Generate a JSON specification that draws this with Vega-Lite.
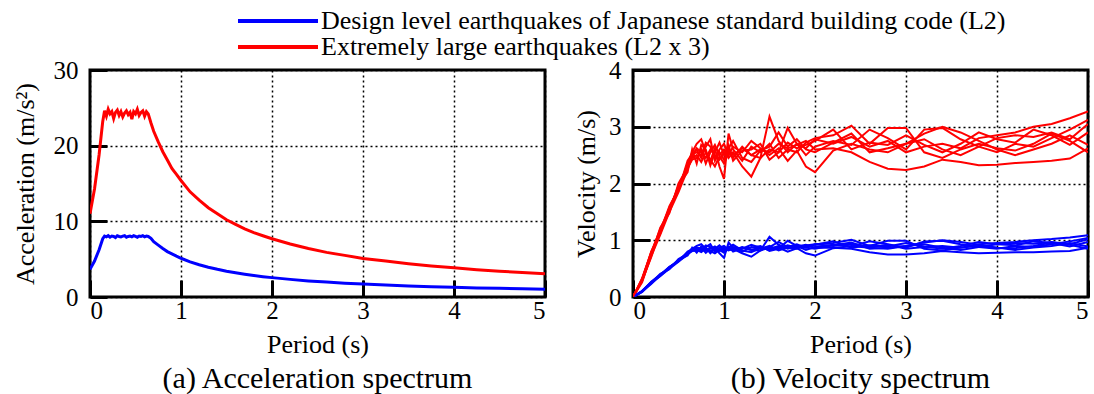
{
  "$schema": "https://vega.github.io/schema/vega-lite/v6.json",
  "background": "white",
  "padding": {"left": 10, "top": 8, "right": 0, "bottom": 0},
  "bounds": "flush",
  "spacing": 88,
  "config": {
    "font": "Liberation Serif",
    "view": {"stroke": "black", "strokeWidth": 3},
    "axis": {
      "domain": false,
      "grid": true,
      "gridColor": "black",
      "gridDash": [2, 3],
      "gridWidth": 1.5,
      "gridOpacity": 1,
      "ticks": true,
      "tickColor": "black",
      "tickSize": -17,
      "tickWidth": 3,
      "labelFont": "Liberation Serif",
      "labelFontSize": 25,
      "labelColor": "black",
      "titleFont": "Liberation Serif",
      "titleFontSize": 26,
      "titleFontWeight": "normal",
      "titleColor": "black"
    },
    "axisX": {"labelPadding": 18, "titlePadding": 8},
    "axisY": {"labelPadding": 29},
    "legend": {
      "symbolType": "M-4,0H4",
      "symbolSize": 400,
      "symbolStrokeWidth": 4,
      "labelFont": "Liberation Serif",
      "labelFontSize": 26,
      "labelColor": "black",
      "labelLimit": 2000,
      "labelOffset": 30,
      "rowPadding": 0,
      "padding": 0,
      "title": null
    },
    "title": {"font": "Liberation Serif", "fontSize": 30, "fontWeight": "normal", "color": "black", "offset": 7}
  },
  "datasets": {
    "acc": [
      {"T": 0, "L2": 3.65, "L2x3": 11.0},
      {"T": 0.05, "L2": 4.75, "L2x3": 14.3},
      {"T": 0.1, "L2": 6.25, "L2x3": 18.8},
      {"T": 0.14, "L2": 7.7, "L2x3": 23.2},
      {"T": 0.16, "L2": 8.05, "L2x3": 24.6},
      {"T": 0.18, "L2": 7.95, "L2x3": 23.9},
      {"T": 0.2, "L2": 8.1, "L2x3": 24.8},
      {"T": 0.22, "L2": 7.9, "L2x3": 24.2},
      {"T": 0.24, "L2": 8.05, "L2x3": 24.5},
      {"T": 0.26, "L2": 8.0, "L2x3": 23.6},
      {"T": 0.28, "L2": 7.85, "L2x3": 24.4},
      {"T": 0.3, "L2": 8.1, "L2x3": 24.7},
      {"T": 0.32, "L2": 8.0, "L2x3": 24.0},
      {"T": 0.34, "L2": 7.95, "L2x3": 24.5},
      {"T": 0.36, "L2": 8.05, "L2x3": 23.8},
      {"T": 0.38, "L2": 8.1, "L2x3": 24.3},
      {"T": 0.4, "L2": 7.9, "L2x3": 24.6},
      {"T": 0.42, "L2": 8.0, "L2x3": 24.1},
      {"T": 0.44, "L2": 8.05, "L2x3": 24.4},
      {"T": 0.46, "L2": 7.95, "L2x3": 23.5},
      {"T": 0.48, "L2": 8.1, "L2x3": 24.5},
      {"T": 0.5, "L2": 8.0, "L2x3": 24.2},
      {"T": 0.52, "L2": 7.9, "L2x3": 24.8},
      {"T": 0.54, "L2": 8.05, "L2x3": 24.0},
      {"T": 0.56, "L2": 8.0, "L2x3": 24.4},
      {"T": 0.58, "L2": 8.1, "L2x3": 24.6},
      {"T": 0.6, "L2": 7.95, "L2x3": 23.9},
      {"T": 0.62, "L2": 8.05, "L2x3": 24.5},
      {"T": 0.64, "L2": 8.0, "L2x3": 24.2},
      {"T": 0.67, "L2": 7.75, "L2x3": 23.0},
      {"T": 0.7, "L2": 7.3, "L2x3": 21.9},
      {"T": 0.75, "L2": 6.85, "L2x3": 20.5},
      {"T": 0.8, "L2": 6.4, "L2x3": 19.2},
      {"T": 0.85, "L2": 6.0, "L2x3": 18.1},
      {"T": 0.9, "L2": 5.7, "L2x3": 17.0},
      {"T": 0.95, "L2": 5.4, "L2x3": 16.2},
      {"T": 1.0, "L2": 5.12, "L2x3": 15.4},
      {"T": 1.1, "L2": 4.65, "L2x3": 13.9},
      {"T": 1.2, "L2": 4.27, "L2x3": 12.8},
      {"T": 1.3, "L2": 3.94, "L2x3": 11.8},
      {"T": 1.4, "L2": 3.66, "L2x3": 11.0},
      {"T": 1.5, "L2": 3.41, "L2x3": 10.2},
      {"T": 1.6, "L2": 3.2, "L2x3": 9.6},
      {"T": 1.7, "L2": 3.01, "L2x3": 9.0},
      {"T": 1.8, "L2": 2.84, "L2x3": 8.5},
      {"T": 1.9, "L2": 2.69, "L2x3": 8.1},
      {"T": 2.0, "L2": 2.56, "L2x3": 7.7},
      {"T": 2.2, "L2": 2.33, "L2x3": 7.0},
      {"T": 2.4, "L2": 2.13, "L2x3": 6.4},
      {"T": 2.6, "L2": 1.97, "L2x3": 5.9},
      {"T": 2.8, "L2": 1.83, "L2x3": 5.5},
      {"T": 3.0, "L2": 1.71, "L2x3": 5.1},
      {"T": 3.25, "L2": 1.58, "L2x3": 4.75},
      {"T": 3.5, "L2": 1.46, "L2x3": 4.4},
      {"T": 3.75, "L2": 1.37, "L2x3": 4.1},
      {"T": 4.0, "L2": 1.28, "L2x3": 3.85},
      {"T": 4.25, "L2": 1.2, "L2x3": 3.6},
      {"T": 4.5, "L2": 1.14, "L2x3": 3.4},
      {"T": 4.75, "L2": 1.08, "L2x3": 3.23},
      {"T": 5.0, "L2": 1.02, "L2x3": 3.07}
    ],
    "vel": [
      {"w": 1, "T": 0, "L2": 0, "L2x3": 0},
      {"w": 1, "T": 0.1, "L2": 0.1, "L2x3": 0.32},
      {"w": 1, "T": 0.2, "L2": 0.26, "L2x3": 0.78},
      {"w": 1, "T": 0.3, "L2": 0.39, "L2x3": 1.2},
      {"w": 1, "T": 0.4, "L2": 0.52, "L2x3": 1.55},
      {"w": 1, "T": 0.5, "L2": 0.65, "L2x3": 1.95},
      {"w": 1, "T": 0.6, "L2": 0.77, "L2x3": 2.3},
      {"w": 1, "T": 0.65, "L2": 0.84, "L2x3": 2.5},
      {"w": 1, "T": 0.7, "L2": 0.87, "L2x3": 2.62},
      {"w": 1, "T": 0.75, "L2": 0.85, "L2x3": 2.55},
      {"w": 1, "T": 0.8, "L2": 0.82, "L2x3": 2.45},
      {"w": 1, "T": 0.85, "L2": 0.87, "L2x3": 2.6},
      {"w": 1, "T": 0.9, "L2": 0.83, "L2x3": 2.5},
      {"w": 1, "T": 0.95, "L2": 0.81, "L2x3": 2.42},
      {"w": 1, "T": 1.0, "L2": 0.85, "L2x3": 2.55},
      {"w": 1, "T": 1.05, "L2": 0.87, "L2x3": 2.6},
      {"w": 1, "T": 1.1, "L2": 0.83, "L2x3": 2.5},
      {"w": 1, "T": 1.2, "L2": 0.87, "L2x3": 2.62},
      {"w": 1, "T": 1.3, "L2": 0.83, "L2x3": 2.5},
      {"w": 1, "T": 1.4, "L2": 0.82, "L2x3": 2.45},
      {"w": 1, "T": 1.5, "L2": 1.06, "L2x3": 3.18},
      {"w": 1, "T": 1.6, "L2": 0.92, "L2x3": 2.75},
      {"w": 1, "T": 1.7, "L2": 0.85, "L2x3": 2.55},
      {"w": 1, "T": 1.8, "L2": 0.9, "L2x3": 2.7},
      {"w": 1, "T": 1.9, "L2": 0.87, "L2x3": 2.62},
      {"w": 1, "T": 2.0, "L2": 0.93, "L2x3": 2.78},
      {"w": 1, "T": 2.2, "L2": 0.9, "L2x3": 2.7},
      {"w": 1, "T": 2.4, "L2": 0.94, "L2x3": 2.82},
      {"w": 1, "T": 2.6, "L2": 0.88, "L2x3": 2.65},
      {"w": 1, "T": 2.8, "L2": 0.92, "L2x3": 2.75},
      {"w": 1, "T": 3.0, "L2": 0.85, "L2x3": 2.55},
      {"w": 1, "T": 3.2, "L2": 0.88, "L2x3": 2.65},
      {"w": 1, "T": 3.4, "L2": 0.9, "L2x3": 2.7},
      {"w": 1, "T": 3.6, "L2": 0.87, "L2x3": 2.62},
      {"w": 1, "T": 3.8, "L2": 0.93, "L2x3": 2.8},
      {"w": 1, "T": 4.0, "L2": 0.95, "L2x3": 2.85},
      {"w": 1, "T": 4.2, "L2": 0.97, "L2x3": 2.9},
      {"w": 1, "T": 4.4, "L2": 1.0, "L2x3": 3.0},
      {"w": 1, "T": 4.6, "L2": 1.02, "L2x3": 3.05},
      {"w": 1, "T": 4.8, "L2": 1.05, "L2x3": 3.15},
      {"w": 1, "T": 5.0, "L2": 1.09, "L2x3": 3.27},

      {"w": 2, "T": 0, "L2": 0, "L2x3": 0},
      {"w": 2, "T": 0.1, "L2": 0.09, "L2x3": 0.28},
      {"w": 2, "T": 0.2, "L2": 0.24, "L2x3": 0.72},
      {"w": 2, "T": 0.3, "L2": 0.37, "L2x3": 1.1},
      {"w": 2, "T": 0.4, "L2": 0.5, "L2x3": 1.5},
      {"w": 2, "T": 0.5, "L2": 0.62, "L2x3": 1.85},
      {"w": 2, "T": 0.6, "L2": 0.75, "L2x3": 2.25},
      {"w": 2, "T": 0.65, "L2": 0.82, "L2x3": 2.45},
      {"w": 2, "T": 0.7, "L2": 0.83, "L2x3": 2.5},
      {"w": 2, "T": 0.75, "L2": 0.79, "L2x3": 2.38},
      {"w": 2, "T": 0.8, "L2": 0.85, "L2x3": 2.55},
      {"w": 2, "T": 0.85, "L2": 0.81, "L2x3": 2.42},
      {"w": 2, "T": 0.9, "L2": 0.77, "L2x3": 2.3},
      {"w": 2, "T": 0.95, "L2": 0.83, "L2x3": 2.48},
      {"w": 2, "T": 1.0, "L2": 0.78, "L2x3": 2.35},
      {"w": 2, "T": 1.05, "L2": 0.85, "L2x3": 2.55},
      {"w": 2, "T": 1.1, "L2": 0.82, "L2x3": 2.45},
      {"w": 2, "T": 1.2, "L2": 0.88, "L2x3": 2.65},
      {"w": 2, "T": 1.3, "L2": 0.83, "L2x3": 2.5},
      {"w": 2, "T": 1.4, "L2": 0.87, "L2x3": 2.6},
      {"w": 2, "T": 1.5, "L2": 0.85, "L2x3": 2.55},
      {"w": 2, "T": 1.6, "L2": 0.9, "L2x3": 2.7},
      {"w": 2, "T": 1.7, "L2": 0.87, "L2x3": 2.62},
      {"w": 2, "T": 1.8, "L2": 0.89, "L2x3": 2.68},
      {"w": 2, "T": 1.9, "L2": 0.92, "L2x3": 2.75},
      {"w": 2, "T": 2.0, "L2": 0.87, "L2x3": 2.6},
      {"w": 2, "T": 2.2, "L2": 0.87, "L2x3": 2.62},
      {"w": 2, "T": 2.4, "L2": 0.85, "L2x3": 2.55},
      {"w": 2, "T": 2.6, "L2": 0.79, "L2x3": 2.38},
      {"w": 2, "T": 2.8, "L2": 0.75, "L2x3": 2.26},
      {"w": 2, "T": 3.0, "L2": 0.75, "L2x3": 2.24},
      {"w": 2, "T": 3.2, "L2": 0.77, "L2x3": 2.3},
      {"w": 2, "T": 3.4, "L2": 0.81, "L2x3": 2.42},
      {"w": 2, "T": 3.6, "L2": 0.79, "L2x3": 2.38},
      {"w": 2, "T": 3.8, "L2": 0.77, "L2x3": 2.32},
      {"w": 2, "T": 4.0, "L2": 0.78, "L2x3": 2.33},
      {"w": 2, "T": 4.2, "L2": 0.79, "L2x3": 2.36},
      {"w": 2, "T": 4.4, "L2": 0.79, "L2x3": 2.38},
      {"w": 2, "T": 4.6, "L2": 0.8, "L2x3": 2.4},
      {"w": 2, "T": 4.8, "L2": 0.81, "L2x3": 2.44},
      {"w": 2, "T": 5.0, "L2": 0.87, "L2x3": 2.62},

      {"w": 3, "T": 0, "L2": 0, "L2x3": 0},
      {"w": 3, "T": 0.1, "L2": 0.1, "L2x3": 0.3},
      {"w": 3, "T": 0.2, "L2": 0.27, "L2x3": 0.8},
      {"w": 3, "T": 0.3, "L2": 0.39, "L2x3": 1.16},
      {"w": 3, "T": 0.4, "L2": 0.53, "L2x3": 1.6},
      {"w": 3, "T": 0.5, "L2": 0.63, "L2x3": 1.9},
      {"w": 3, "T": 0.6, "L2": 0.78, "L2x3": 2.35},
      {"w": 3, "T": 0.65, "L2": 0.85, "L2x3": 2.55},
      {"w": 3, "T": 0.7, "L2": 0.9, "L2x3": 2.7},
      {"w": 3, "T": 0.75, "L2": 0.93, "L2x3": 2.78},
      {"w": 3, "T": 0.8, "L2": 0.85, "L2x3": 2.55},
      {"w": 3, "T": 0.85, "L2": 0.8, "L2x3": 2.4},
      {"w": 3, "T": 0.9, "L2": 0.87, "L2x3": 2.62},
      {"w": 3, "T": 0.95, "L2": 0.77, "L2x3": 2.3},
      {"w": 3, "T": 1.0, "L2": 0.69, "L2x3": 2.08},
      {"w": 3, "T": 1.05, "L2": 0.96, "L2x3": 2.88},
      {"w": 3, "T": 1.1, "L2": 0.87, "L2x3": 2.6},
      {"w": 3, "T": 1.2, "L2": 0.8, "L2x3": 2.4},
      {"w": 3, "T": 1.3, "L2": 0.88, "L2x3": 2.65},
      {"w": 3, "T": 1.4, "L2": 0.85, "L2x3": 2.55},
      {"w": 3, "T": 1.5, "L2": 0.9, "L2x3": 2.7},
      {"w": 3, "T": 1.6, "L2": 0.82, "L2x3": 2.45},
      {"w": 3, "T": 1.7, "L2": 0.87, "L2x3": 2.6},
      {"w": 3, "T": 1.8, "L2": 0.85, "L2x3": 2.55},
      {"w": 3, "T": 1.9, "L2": 0.91, "L2x3": 2.72},
      {"w": 3, "T": 2.0, "L2": 0.93, "L2x3": 2.8},
      {"w": 3, "T": 2.2, "L2": 0.95, "L2x3": 2.85},
      {"w": 3, "T": 2.4, "L2": 1.01, "L2x3": 3.02},
      {"w": 3, "T": 2.6, "L2": 0.9, "L2x3": 2.7},
      {"w": 3, "T": 2.8, "L2": 0.99, "L2x3": 2.98},
      {"w": 3, "T": 3.0, "L2": 0.99, "L2x3": 2.98},
      {"w": 3, "T": 3.2, "L2": 0.85, "L2x3": 2.55},
      {"w": 3, "T": 3.4, "L2": 0.82, "L2x3": 2.45},
      {"w": 3, "T": 3.6, "L2": 0.87, "L2x3": 2.6},
      {"w": 3, "T": 3.8, "L2": 0.9, "L2x3": 2.7},
      {"w": 3, "T": 4.0, "L2": 0.87, "L2x3": 2.62},
      {"w": 3, "T": 4.2, "L2": 0.86, "L2x3": 2.58},
      {"w": 3, "T": 4.4, "L2": 0.9, "L2x3": 2.7},
      {"w": 3, "T": 4.6, "L2": 0.96, "L2x3": 2.88},
      {"w": 3, "T": 4.8, "L2": 0.92, "L2x3": 2.75},
      {"w": 3, "T": 5.0, "L2": 0.85, "L2x3": 2.55},

      {"w": 4, "T": 0, "L2": 0, "L2x3": 0},
      {"w": 4, "T": 0.1, "L2": 0.09, "L2x3": 0.26},
      {"w": 4, "T": 0.2, "L2": 0.25, "L2x3": 0.74},
      {"w": 4, "T": 0.3, "L2": 0.41, "L2x3": 1.22},
      {"w": 4, "T": 0.4, "L2": 0.49, "L2x3": 1.48},
      {"w": 4, "T": 0.5, "L2": 0.67, "L2x3": 2.0},
      {"w": 4, "T": 0.6, "L2": 0.76, "L2x3": 2.28},
      {"w": 4, "T": 0.65, "L2": 0.81, "L2x3": 2.42},
      {"w": 4, "T": 0.7, "L2": 0.82, "L2x3": 2.45},
      {"w": 4, "T": 0.75, "L2": 0.87, "L2x3": 2.6},
      {"w": 4, "T": 0.8, "L2": 0.78, "L2x3": 2.35},
      {"w": 4, "T": 0.85, "L2": 0.85, "L2x3": 2.55},
      {"w": 4, "T": 0.9, "L2": 0.89, "L2x3": 2.68},
      {"w": 4, "T": 0.95, "L2": 0.83, "L2x3": 2.5},
      {"w": 4, "T": 1.0, "L2": 0.87, "L2x3": 2.6},
      {"w": 4, "T": 1.05, "L2": 0.82, "L2x3": 2.45},
      {"w": 4, "T": 1.1, "L2": 0.85, "L2x3": 2.55},
      {"w": 4, "T": 1.2, "L2": 0.77, "L2x3": 2.3},
      {"w": 4, "T": 1.3, "L2": 0.71, "L2x3": 2.12},
      {"w": 4, "T": 1.4, "L2": 0.82, "L2x3": 2.45},
      {"w": 4, "T": 1.5, "L2": 0.87, "L2x3": 2.6},
      {"w": 4, "T": 1.6, "L2": 0.85, "L2x3": 2.55},
      {"w": 4, "T": 1.7, "L2": 0.99, "L2x3": 2.98},
      {"w": 4, "T": 1.8, "L2": 0.9, "L2x3": 2.7},
      {"w": 4, "T": 1.9, "L2": 0.83, "L2x3": 2.5},
      {"w": 4, "T": 2.0, "L2": 0.88, "L2x3": 2.65},
      {"w": 4, "T": 2.2, "L2": 0.92, "L2x3": 2.75},
      {"w": 4, "T": 2.4, "L2": 0.89, "L2x3": 2.68},
      {"w": 4, "T": 2.6, "L2": 0.98, "L2x3": 2.95},
      {"w": 4, "T": 2.8, "L2": 0.93, "L2x3": 2.8},
      {"w": 4, "T": 3.0, "L2": 0.87, "L2x3": 2.6},
      {"w": 4, "T": 3.2, "L2": 0.98, "L2x3": 2.95},
      {"w": 4, "T": 3.4, "L2": 0.99, "L2x3": 2.98},
      {"w": 4, "T": 3.6, "L2": 0.93, "L2x3": 2.78},
      {"w": 4, "T": 3.8, "L2": 0.88, "L2x3": 2.65},
      {"w": 4, "T": 4.0, "L2": 0.85, "L2x3": 2.55},
      {"w": 4, "T": 4.2, "L2": 0.9, "L2x3": 2.7},
      {"w": 4, "T": 4.4, "L2": 0.88, "L2x3": 2.65},
      {"w": 4, "T": 4.6, "L2": 0.93, "L2x3": 2.8},
      {"w": 4, "T": 4.8, "L2": 0.98, "L2x3": 2.95},
      {"w": 4, "T": 5.0, "L2": 1.04, "L2x3": 3.12},

      {"w": 5, "T": 0, "L2": 0, "L2x3": 0},
      {"w": 5, "T": 0.1, "L2": 0.1, "L2x3": 0.31},
      {"w": 5, "T": 0.2, "L2": 0.25, "L2x3": 0.76},
      {"w": 5, "T": 0.3, "L2": 0.38, "L2x3": 1.14},
      {"w": 5, "T": 0.4, "L2": 0.53, "L2x3": 1.58},
      {"w": 5, "T": 0.5, "L2": 0.63, "L2x3": 1.88},
      {"w": 5, "T": 0.6, "L2": 0.8, "L2x3": 2.4},
      {"w": 5, "T": 0.65, "L2": 0.84, "L2x3": 2.52},
      {"w": 5, "T": 0.7, "L2": 0.85, "L2x3": 2.55},
      {"w": 5, "T": 0.75, "L2": 0.83, "L2x3": 2.5},
      {"w": 5, "T": 0.8, "L2": 0.91, "L2x3": 2.72},
      {"w": 5, "T": 0.85, "L2": 0.88, "L2x3": 2.65},
      {"w": 5, "T": 0.9, "L2": 0.82, "L2x3": 2.45},
      {"w": 5, "T": 0.95, "L2": 0.87, "L2x3": 2.6},
      {"w": 5, "T": 1.0, "L2": 0.9, "L2x3": 2.7},
      {"w": 5, "T": 1.05, "L2": 0.83, "L2x3": 2.5},
      {"w": 5, "T": 1.1, "L2": 0.88, "L2x3": 2.65},
      {"w": 5, "T": 1.2, "L2": 0.85, "L2x3": 2.55},
      {"w": 5, "T": 1.3, "L2": 0.92, "L2x3": 2.75},
      {"w": 5, "T": 1.4, "L2": 0.87, "L2x3": 2.62},
      {"w": 5, "T": 1.5, "L2": 0.83, "L2x3": 2.5},
      {"w": 5, "T": 1.6, "L2": 0.87, "L2x3": 2.62},
      {"w": 5, "T": 1.7, "L2": 0.8, "L2x3": 2.4},
      {"w": 5, "T": 1.8, "L2": 0.86, "L2x3": 2.58},
      {"w": 5, "T": 1.9, "L2": 0.77, "L2x3": 2.3},
      {"w": 5, "T": 2.0, "L2": 0.73, "L2x3": 2.2},
      {"w": 5, "T": 2.2, "L2": 0.86, "L2x3": 2.58},
      {"w": 5, "T": 2.4, "L2": 0.9, "L2x3": 2.7},
      {"w": 5, "T": 2.6, "L2": 0.87, "L2x3": 2.6},
      {"w": 5, "T": 2.8, "L2": 0.85, "L2x3": 2.55},
      {"w": 5, "T": 3.0, "L2": 0.9, "L2x3": 2.7},
      {"w": 5, "T": 3.2, "L2": 0.93, "L2x3": 2.78},
      {"w": 5, "T": 3.4, "L2": 0.87, "L2x3": 2.6},
      {"w": 5, "T": 3.6, "L2": 0.83, "L2x3": 2.5},
      {"w": 5, "T": 3.8, "L2": 0.88, "L2x3": 2.65},
      {"w": 5, "T": 4.0, "L2": 0.93, "L2x3": 2.8},
      {"w": 5, "T": 4.2, "L2": 0.95, "L2x3": 2.85},
      {"w": 5, "T": 4.4, "L2": 0.94, "L2x3": 2.82},
      {"w": 5, "T": 4.6, "L2": 0.97, "L2x3": 2.9},
      {"w": 5, "T": 4.8, "L2": 0.93, "L2x3": 2.78},
      {"w": 5, "T": 5.0, "L2": 1.02, "L2x3": 3.05},

      {"w": 6, "T": 0, "L2": 0, "L2x3": 0},
      {"w": 6, "T": 0.1, "L2": 0.1, "L2x3": 0.29},
      {"w": 6, "T": 0.2, "L2": 0.23, "L2x3": 0.7},
      {"w": 6, "T": 0.3, "L2": 0.39, "L2x3": 1.18},
      {"w": 6, "T": 0.4, "L2": 0.51, "L2x3": 1.52},
      {"w": 6, "T": 0.5, "L2": 0.65, "L2x3": 1.96},
      {"w": 6, "T": 0.6, "L2": 0.73, "L2x3": 2.2},
      {"w": 6, "T": 0.65, "L2": 0.87, "L2x3": 2.6},
      {"w": 6, "T": 0.7, "L2": 0.78, "L2x3": 2.35},
      {"w": 6, "T": 0.75, "L2": 0.89, "L2x3": 2.68},
      {"w": 6, "T": 0.8, "L2": 0.87, "L2x3": 2.6},
      {"w": 6, "T": 0.85, "L2": 0.77, "L2x3": 2.32},
      {"w": 6, "T": 0.9, "L2": 0.85, "L2x3": 2.55},
      {"w": 6, "T": 0.95, "L2": 0.91, "L2x3": 2.72},
      {"w": 6, "T": 1.0, "L2": 0.83, "L2x3": 2.5},
      {"w": 6, "T": 1.05, "L2": 0.89, "L2x3": 2.68},
      {"w": 6, "T": 1.1, "L2": 0.8, "L2x3": 2.4},
      {"w": 6, "T": 1.2, "L2": 0.86, "L2x3": 2.58},
      {"w": 6, "T": 1.3, "L2": 0.87, "L2x3": 2.6},
      {"w": 6, "T": 1.4, "L2": 0.9, "L2x3": 2.7},
      {"w": 6, "T": 1.5, "L2": 0.81, "L2x3": 2.42},
      {"w": 6, "T": 1.6, "L2": 0.85, "L2x3": 2.55},
      {"w": 6, "T": 1.7, "L2": 0.91, "L2x3": 2.72},
      {"w": 6, "T": 1.8, "L2": 0.87, "L2x3": 2.62},
      {"w": 6, "T": 1.9, "L2": 0.89, "L2x3": 2.68},
      {"w": 6, "T": 2.0, "L2": 0.92, "L2x3": 2.75},
      {"w": 6, "T": 2.2, "L2": 0.98, "L2x3": 2.95},
      {"w": 6, "T": 2.4, "L2": 0.87, "L2x3": 2.6},
      {"w": 6, "T": 2.6, "L2": 0.91, "L2x3": 2.72},
      {"w": 6, "T": 2.8, "L2": 0.89, "L2x3": 2.68},
      {"w": 6, "T": 3.0, "L2": 0.95, "L2x3": 2.85},
      {"w": 6, "T": 3.2, "L2": 0.89, "L2x3": 2.68},
      {"w": 6, "T": 3.4, "L2": 0.85, "L2x3": 2.55},
      {"w": 6, "T": 3.6, "L2": 0.9, "L2x3": 2.7},
      {"w": 6, "T": 3.8, "L2": 0.97, "L2x3": 2.9},
      {"w": 6, "T": 4.0, "L2": 0.93, "L2x3": 2.78},
      {"w": 6, "T": 4.2, "L2": 0.91, "L2x3": 2.72},
      {"w": 6, "T": 4.4, "L2": 0.98, "L2x3": 2.95},
      {"w": 6, "T": 4.6, "L2": 0.95, "L2x3": 2.85},
      {"w": 6, "T": 4.8, "L2": 0.89, "L2x3": 2.68},
      {"w": 6, "T": 5.0, "L2": 0.97, "L2x3": 2.9},

      {"w": 7, "T": 0, "L2": 0, "L2x3": 0},
      {"w": 7, "T": 0.1, "L2": 0.11, "L2x3": 0.33},
      {"w": 7, "T": 0.2, "L2": 0.26, "L2x3": 0.79},
      {"w": 7, "T": 0.3, "L2": 0.37, "L2x3": 1.12},
      {"w": 7, "T": 0.4, "L2": 0.52, "L2x3": 1.56},
      {"w": 7, "T": 0.5, "L2": 0.64, "L2x3": 1.92},
      {"w": 7, "T": 0.6, "L2": 0.77, "L2x3": 2.32},
      {"w": 7, "T": 0.65, "L2": 0.83, "L2x3": 2.48},
      {"w": 7, "T": 0.7, "L2": 0.87, "L2x3": 2.6},
      {"w": 7, "T": 0.75, "L2": 0.82, "L2x3": 2.45},
      {"w": 7, "T": 0.8, "L2": 0.88, "L2x3": 2.65},
      {"w": 7, "T": 0.85, "L2": 0.93, "L2x3": 2.78},
      {"w": 7, "T": 0.9, "L2": 0.8, "L2x3": 2.4},
      {"w": 7, "T": 0.95, "L2": 0.85, "L2x3": 2.55},
      {"w": 7, "T": 1.0, "L2": 0.81, "L2x3": 2.42},
      {"w": 7, "T": 1.05, "L2": 0.87, "L2x3": 2.62},
      {"w": 7, "T": 1.1, "L2": 0.92, "L2x3": 2.75},
      {"w": 7, "T": 1.2, "L2": 0.82, "L2x3": 2.45},
      {"w": 7, "T": 1.3, "L2": 0.79, "L2x3": 2.38},
      {"w": 7, "T": 1.4, "L2": 0.86, "L2x3": 2.58},
      {"w": 7, "T": 1.5, "L2": 0.88, "L2x3": 2.65},
      {"w": 7, "T": 1.6, "L2": 0.97, "L2x3": 2.9},
      {"w": 7, "T": 1.7, "L2": 0.88, "L2x3": 2.65},
      {"w": 7, "T": 1.8, "L2": 0.93, "L2x3": 2.78},
      {"w": 7, "T": 1.9, "L2": 0.87, "L2x3": 2.6},
      {"w": 7, "T": 2.0, "L2": 0.85, "L2x3": 2.55},
      {"w": 7, "T": 2.2, "L2": 0.91, "L2x3": 2.72},
      {"w": 7, "T": 2.4, "L2": 0.96, "L2x3": 2.88},
      {"w": 7, "T": 2.6, "L2": 0.85, "L2x3": 2.55},
      {"w": 7, "T": 2.8, "L2": 0.87, "L2x3": 2.62},
      {"w": 7, "T": 3.0, "L2": 0.9, "L2x3": 2.7},
      {"w": 7, "T": 3.2, "L2": 0.96, "L2x3": 2.88},
      {"w": 7, "T": 3.4, "L2": 1.0, "L2x3": 3.0},
      {"w": 7, "T": 3.6, "L2": 0.97, "L2x3": 2.9},
      {"w": 7, "T": 3.8, "L2": 0.92, "L2x3": 2.75},
      {"w": 7, "T": 4.0, "L2": 0.87, "L2x3": 2.6},
      {"w": 7, "T": 4.2, "L2": 0.83, "L2x3": 2.5},
      {"w": 7, "T": 4.4, "L2": 0.87, "L2x3": 2.6},
      {"w": 7, "T": 4.6, "L2": 0.9, "L2x3": 2.7},
      {"w": 7, "T": 4.8, "L2": 0.95, "L2x3": 2.85},
      {"w": 7, "T": 5.0, "L2": 0.89, "L2x3": 2.68}
    ]
  },
  "hconcat": [
    {
      "width": 455,
      "height": 227,
      "data": {"name": "acc"},
      "transform": [{"fold": ["L2", "L2x3"], "as": ["level", "Sa"]}],
      "mark": {"type": "line", "strokeWidth": 3, "clip": true},
      "encoding": {
        "x": {
          "field": "T", "type": "quantitative",
          "scale": {"domain": [0, 5], "nice": false},
          "axis": {"values": [0, 1, 2, 3, 4, 5], "title": "Period (s)"}
        },
        "y": {
          "field": "Sa", "type": "quantitative",
          "scale": {"domain": [0, 30], "nice": false},
          "axis": {"values": [0, 10, 20, 30], "title": "Acceleration (m/s²)", "titlePadding": 15}
        },
        "color": {
          "field": "level", "type": "nominal",
          "scale": {"domain": ["L2", "L2x3"], "range": ["#0000ff", "#ff0000"]},
          "legend": {
            "orient": "none",
            "legendX": 175,
            "legendY": -62,
            "labelExpr": "datum.label === 'L2' ? 'Design level earthquakes of Japanese standard building code (L2)' : 'Extremely large earthquakes (L2 x 3)'"
          }
        }
      },
      "title": {"text": "(a) Acceleration spectrum", "orient": "bottom"}
    },
    {
      "width": 455,
      "height": 227,
      "data": {"name": "vel"},
      "transform": [{"fold": ["L2", "L2x3"], "as": ["level", "Sv"]}],
      "mark": {"type": "line", "strokeWidth": 2, "clip": true},
      "encoding": {
        "x": {
          "field": "T", "type": "quantitative",
          "scale": {"domain": [0, 5], "nice": false},
          "axis": {"values": [0, 1, 2, 3, 4, 5], "title": "Period (s)"}
        },
        "y": {
          "field": "Sv", "type": "quantitative",
          "scale": {"domain": [0, 4], "nice": false},
          "axis": {"values": [0, 1, 2, 3, 4], "title": "Velocity (m/s)", "titlePadding": 9}
        },
        "color": {"field": "level", "type": "nominal"},
        "detail": {"field": "w", "type": "nominal"}
      },
      "title": {"text": "(b) Velocity spectrum", "orient": "bottom"}
    }
  ]
}
